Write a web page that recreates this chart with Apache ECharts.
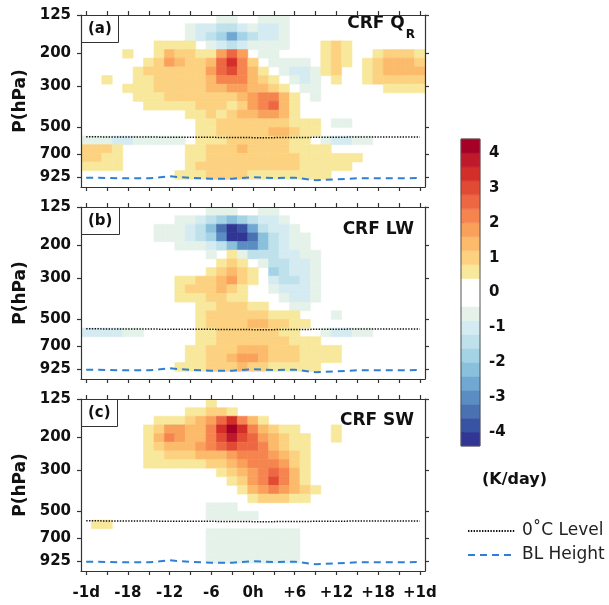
<!DOCTYPE html>
<html>
<head>
<meta charset="utf-8">
<script src="https://cdn.jsdelivr.net/npm/echarts@6/dist/echarts.min.js"></script>
<style>
  html, body { margin: 0; padding: 0; background: #ffffff; }
  #chart { width: 609px; height: 605px; }
</style>
</head>
<body>
<div id="chart"></div>
<script>
// Cell centres in hours relative to the event (1.5 h spacing)
const hours = [-24,-22.5,-21,-19.5,-18,-16.5,-15,-13.5,-12,-10.5,-9,-7.5,-6,-4.5,-3,-1.5,0,1.5,3,4.5,6,7.5,9,10.5,12,13.5,15,16.5,18,19.5,21,22.5,24];
// Pressure of each row (hPa), top to bottom
const levels = [132,147,163,182,202,225,251,279,310,345,384,428,476,530,590,656,731,813,905,1007];

// Cloud radiative forcing heating rates (K/day); one row per level, one column per hour
const crfQR = [
  [0,0,0,0,0,0,0,0,0,0,0,0,0,-.6,-.6,0,0,-.6,-.6,-.6,0,0,0,0,0,0,0,0,0,0,0,0,0],
  [0,0,0,0,0,0,0,0,0,0,-.6,-1,-1,-1.4,-1.4,-1,-.6,-1,-1,-.6,0,0,0,0,0,0,0,0,0,0,0,0,0],
  [0,0,0,0,0,0,0,0,0,0,-.6,-1,-1.4,-1.8,-2.6,-1.8,-1.4,-1,-1,-.6,0,0,0,0,0,0,0,0,0,0,0,0,0],
  [0,0,0,0,0,0,0,.6,.6,.6,.6,0,-.6,-1,-1.4,-1,-.6,-.6,-.6,-.6,0,0,0,.6,1,.6,0,0,0,0,0,0,0],
  [0,0,0,0,.6,0,0,.6,1.4,1,1,.6,.6,1.8,2.6,1.8,0,-.6,-.6,0,0,0,0,.6,1,.6,0,0,.6,1,1,1,.6],
  [0,0,0,0,0,0,.6,1,1.8,1.4,1,1,1.4,2.6,3.4,2.2,1,0,-.6,-.6,-.6,-.6,0,.6,1,.6,0,.6,1,1.4,1.4,1.4,1],
  [0,0,0,0,0,.6,1,1,1,1,1,1,1.8,2.6,3,2.2,1.4,.6,0,-.6,-1,-1,-.6,.6,1,0,0,.6,1,1.4,1.4,1.4,1.4],
  [0,0,.6,0,0,.6,.6,1,1,1,1,1,1.4,2.2,2.2,2.2,1.4,1,.6,0,-.6,-1,-.6,0,.6,0,0,.6,1,1,1,1,1],
  [0,0,0,0,.6,.6,.6,1,1,1,1,1,1.4,1.4,1.8,1.8,1.4,1.4,1,.6,0,-.6,-.6,0,0,0,0,0,0,.6,.6,.6,.6],
  [0,0,0,0,0,.6,.6,.6,1,1,1,1,1,1,1,1.4,1.8,2.2,2.2,1.4,.6,0,-.6,0,0,0,0,0,0,0,0,0,0],
  [0,0,0,0,0,0,.6,.6,.6,.6,.6,1,1,1,.6,1,1.8,2.2,2.6,1.4,.6,0,0,0,0,0,0,0,0,0,0,0,0],
  [0,0,0,0,0,0,0,0,0,0,.6,.6,1,.6,1,1.4,1.4,1.8,1.8,1.4,.6,0,0,0,0,0,0,0,0,0,0,0,0],
  [0,0,0,0,0,0,0,0,0,0,0,.6,.6,1,1,1,1,1,1,1,.6,.6,.6,0,-.6,-.6,0,0,0,0,0,0,0],
  [0,0,0,0,0,0,0,0,0,0,0,.6,.6,1,1,1,1,1,1.4,1.4,1,.6,.6,0,0,0,0,0,0,0,0,0,0],
  [-.6,-.6,-.6,-1,-1,-.6,-.6,-.6,-.6,-.6,0,.6,.6,.6,1,1,1,1,1,1,.6,.6,0,-.6,-1,-1,-.6,-.6,0,0,0,0,0],
  [1,1,1,.6,0,0,0,0,0,0,.6,.6,1,1,1,1.4,1,1,1,1,.6,.6,.6,.6,0,0,0,0,0,0,0,0,0],
  [1,1,.6,.6,0,0,0,0,0,0,.6,.6,1,1,1,1,1,1,1,1,1,.6,.6,.6,.6,.6,.6,0,0,0,0,0,0],
  [.6,.6,.6,.6,0,0,0,0,0,0,.6,1,1,1,1,1,1,1,1,1,1,.6,.6,.6,.6,.6,0,0,0,0,0,0,0],
  [0,0,0,0,0,0,0,0,0,.6,.6,.6,1,1,1,1,.6,.6,.6,.6,.6,.6,.6,.6,0,0,0,0,0,0,0,0,0],
  [0,0,0,0,0,0,0,0,0,0,0,0,0,0,0,0,0,0,0,0,0,0,0,0,0,0,0,0,0,0,0,0,0]
];
const crfLW = [
  [0,0,0,0,0,0,0,0,0,0,0,0,-.6,-.6,-.6,0,0,-.6,-.6,0,0,0,0,0,0,0,0,0,0,0,0,0,0],
  [0,0,0,0,0,0,0,0,0,-.6,-.6,-1,-1.4,-1.8,-2.2,-1.8,-1.4,-1,-1,-.6,0,0,0,0,0,0,0,0,0,0,0,0,0],
  [0,0,0,0,0,0,0,-.6,-.6,-.6,-1,-1.4,-2.2,-3.4,-4.2,-3.8,-2.6,-1.4,-1,-1,-.6,0,0,0,0,0,0,0,0,0,0,0,0],
  [0,0,0,0,0,0,0,-.6,-.6,-.6,-1,-1.4,-1.8,-3,-4.2,-4.2,-3.4,-2.2,-1.4,-1,-.6,-.6,0,0,0,0,0,0,0,0,0,0,0],
  [0,0,0,0,0,0,0,0,0,-.6,-.6,-.6,-1,-1.4,-2.2,-3,-3,-2.2,-1.4,-1,-.6,-.6,0,0,0,0,0,0,0,0,0,0,0],
  [0,0,0,0,0,0,0,0,0,0,0,0,-.6,0,.6,-.6,-1.4,-1.4,-1.4,-1,-1,-.6,-.6,0,0,0,0,0,0,0,0,0,0],
  [0,0,0,0,0,0,0,0,0,0,0,0,0,.6,1,.6,0,-.6,-1.4,-1.4,-1,-1,-.6,0,0,0,0,0,0,0,0,0,0],
  [0,0,0,0,0,0,0,0,0,0,0,0,.6,1,1.4,1,.6,0,-1.8,-1.4,-1,-1,-.6,0,0,0,0,0,0,0,0,0,0],
  [0,0,0,0,0,0,0,0,0,.6,.6,1,1,1.4,1.8,1,.6,0,-1,-1.4,-1.4,-1,-.6,0,0,0,0,0,0,0,0,0,0],
  [0,0,0,0,0,0,0,0,0,.6,1,1,1,1.4,1,.6,0,0,-.6,-1,-1,-1,-.6,0,0,0,0,0,0,0,0,0,0],
  [0,0,0,0,0,0,0,0,0,.6,.6,.6,1,1,.6,.6,0,0,0,-.6,-1,-1,-.6,0,0,0,0,0,0,0,0,0,0],
  [0,0,0,0,0,0,0,0,0,0,0,.6,.6,1,1,1,.6,.6,0,0,-.6,-.6,0,0,0,0,0,0,0,0,0,0,0],
  [0,0,0,0,0,0,0,0,0,0,0,.6,1,1,1,1,1,1,.6,.6,.6,0,0,0,-.6,0,0,0,0,0,0,0,0],
  [0,0,0,0,0,0,0,0,0,0,0,.6,1,1,1,1,1.4,1.4,1,1,.6,.6,0,0,0,0,0,0,0,0,0,0,0],
  [-1,-1,-1,-1,-.6,-.6,0,0,0,0,0,.6,.6,1,1,1,1,1,1,.6,.6,0,0,-.6,-1,-1,-.6,-.6,0,0,0,0,0],
  [0,0,0,0,0,0,0,0,0,0,0,.6,.6,1,1,1,1,1,1,1,.6,.6,.6,0,0,0,0,0,0,0,0,0,0],
  [0,0,0,0,0,0,0,0,0,0,.6,.6,1,1,1,1.4,1.4,1.4,1,1,1,.6,.6,.6,.6,0,0,0,0,0,0,0,0],
  [0,0,0,0,0,0,0,0,0,0,.6,.6,1,1,1.4,1.8,1.8,1.4,1,1,1,.6,.6,.6,.6,0,0,0,0,0,0,0,0],
  [0,0,0,0,0,0,0,0,0,.6,.6,.6,1,1,1,1.4,1,1,.6,.6,.6,.6,.6,0,0,0,0,0,0,0,0,0,0],
  [0,0,0,0,0,0,0,0,0,0,0,0,0,0,0,0,0,0,0,0,0,0,0,0,0,0,0,0,0,0,0,0,0]
];
const crfSW = [
  [0,0,0,0,0,0,0,0,0,0,0,0,.6,0,0,0,0,0,0,0,0,0,0,0,0,0,0,0,0,0,0,0,0],
  [0,0,0,0,0,0,0,0,0,0,.6,.6,1,1,.6,0,0,0,0,0,0,0,0,0,0,0,0,0,0,0,0,0,0],
  [0,0,0,0,0,0,0,.6,.6,.6,1,1.4,1.8,2.6,3.4,2.2,1.4,.6,0,0,0,0,0,0,0,0,0,0,0,0,0,0,0],
  [0,0,0,0,0,0,.6,1,1.8,1.8,1.4,1.4,2.2,3.4,4.2,3.4,2.2,1.4,1,.6,.6,0,0,0,.6,0,0,0,0,0,0,0,0],
  [0,0,0,0,0,0,.6,1.4,2.2,1.8,1.4,1.4,2.2,3,3.8,3,2.6,1.8,1.4,1,.6,.6,0,0,.6,0,0,0,0,0,0,0,0],
  [0,0,0,0,0,0,.6,1,1.4,1.4,1.4,1.8,2.2,2.6,3,2.6,2.6,2.2,1.4,1,.6,.6,0,0,0,0,0,0,0,0,0,0,0],
  [0,0,0,0,0,0,.6,.6,1,1,1,1.4,1.4,1.4,1.8,2.2,2.2,2.2,1.8,1.4,1,.6,0,0,0,0,0,0,0,0,0,0,0],
  [0,0,0,0,0,0,.6,.6,.6,.6,.6,.6,1,1,1.4,1.8,2.2,2.2,2.2,1.8,1,.6,0,0,0,0,0,0,0,0,0,0,0],
  [0,0,0,0,0,0,0,0,0,0,0,0,0,.6,1,1.4,1.8,2.2,2.6,2.2,1.4,.6,0,0,0,0,0,0,0,0,0,0,0],
  [0,0,0,0,0,0,0,0,0,0,0,0,0,0,.6,1,1.8,2.2,3,2.2,1.4,.6,0,0,0,0,0,0,0,0,0,0,0],
  [0,0,0,0,0,0,0,0,0,0,0,0,0,0,0,.6,1.4,1.8,2.2,1.8,1.4,1,.6,0,0,0,0,0,0,0,0,0,0],
  [0,0,0,0,0,0,0,0,0,0,0,0,0,0,0,0,.6,1,1,1,.6,.6,0,0,0,0,0,0,0,0,0,0,0],
  [0,0,0,0,0,0,0,0,0,0,0,0,-.6,-.6,-.6,0,0,0,0,0,0,0,0,0,0,0,0,0,0,0,0,0,0],
  [0,0,0,0,0,0,0,0,0,0,0,0,-.6,-.6,-.6,-.6,-.6,0,0,0,0,0,0,0,0,0,0,0,0,0,0,0,0],
  [0,.6,.6,0,0,0,0,0,0,0,0,0,0,0,0,0,0,0,0,0,0,0,0,0,0,0,0,0,0,0,0,0,0],
  [0,0,0,0,0,0,0,0,0,0,0,0,-.6,-.6,-.6,-.6,-.6,-.6,-.6,-.6,-.6,0,0,0,0,0,0,0,0,0,0,0,0],
  [0,0,0,0,0,0,0,0,0,0,0,0,-.6,-.6,-.6,-.6,-.6,-.6,-.6,-.6,-.6,0,0,0,0,0,0,0,0,0,0,0,0],
  [0,0,0,0,0,0,0,0,0,0,0,0,-.6,-.6,-.6,-.6,-.6,-.6,-.6,-.6,-.6,0,0,0,0,0,0,0,0,0,0,0,0],
  [0,0,0,0,0,0,0,0,0,0,0,0,-.6,-.6,-.6,-.6,-.6,-.6,-.6,-.6,-.6,0,0,0,0,0,0,0,0,0,0,0,0],
  [0,0,0,0,0,0,0,0,0,0,0,0,0,0,0,0,0,0,0,0,0,0,0,0,0,0,0,0,0,0,0,0,0]
];

// Freezing level and boundary-layer top (hPa), every 3 h
const lineHours = [-24,-21,-18,-15,-12,-9,-6,-3,0,3,6,9,12,15,18,21,24];
const zeroCLevel = [564,565,566,566,567,567,568,569,570,570,569,568,567,566,566,565,565];
const blHeight = [935,939,943,943,920,939,947,947,931,939,935,966,955,943,943,943,939];

// Axis ticks and labels
const xTickHours = [-24,-21,-18,-15,-12,-9,-6,-3,0,3,6,9,12,15,18,21,24];
const xLabelHours = [-24,-18,-12,-6,0,6,12,18,24];
const xLabelText = ['-1d','-18','-12','-6','0h','+6','+12','+18','+1d'];
const pTicks = [125,200,300,500,700,925];
const cbTicks = [-4,-3,-2,-1,0,1,2,3,4];

// Shading levels (K/day) and their colours, lowest first
const bandEdges = [-4.4,-4,-3.6,-3.2,-2.8,-2.4,-2,-1.6,-1.2,-0.8,-0.4,0.4,0.8,1.2,1.6,2,2.4,2.8,3.2,3.6,4,4.4];
const bandColors = ['#313695','#3953a4','#4a72b3','#5a8ec3','#70a8d1','#89c0dc','#a4d3e6','#bee1eb','#d5ebf2','#e5f2ea','#ffffff',
                    '#f8e89c','#fcd281','#fcba6b','#f9a05a','#f5844e','#ee6743','#e14b34','#d32f28','#be1a2c','#a50026'];

const panelNames = ['CRF QR','CRF LW','CRF SW'];
const panelFields = [crfQR, crfLW, crfSW];
const panelTags = ['(a)','(b)','(c)'];

const FONT = 'DejaVu Sans';
const AX = '#333333';
const P_MIN = 125, P_MAX = 1050;
const T_MIN = -24.75, T_MAX = 24.75;
const gridTops = [15, 207, 399];
const halfStep = (hours[1] - hours[0]) / 2;

function rowEdges(i) {
  const top = i === 0 ? P_MIN : Math.sqrt(levels[i - 1] * levels[i]);
  const bottom = i === levels.length - 1 ? P_MAX : Math.sqrt(levels[i] * levels[i + 1]);
  return [top, bottom];
}

function toCells(field) {
  const out = [];
  field.forEach((row, i) => {
    row.forEach((v, j) => {
      if (v !== 0) out.push([hours[j], levels[i], v, i]);
    });
  });
  return out;
}

function renderCell(params, api) {
  const t = api.value(0);
  const edges = rowEdges(api.value(3));
  const a = api.coord([t - halfStep, edges[0]]);
  const b = api.coord([t + halfStep, edges[1]]);
  const color = api.visual('color');
  return {
    type: 'rect',
    shape: {
      x: Math.min(a[0], b[0]), y: Math.min(a[1], b[1]),
      width: Math.abs(b[0] - a[0]), height: Math.abs(b[1] - a[1])
    },
    style: { fill: color, stroke: color, lineWidth: 0.6 }
  };
}

function renderBand(params, api) {
  const a = api.coord([0, api.value(1)]);
  const b = api.coord([1, api.value(0)]);
  const color = api.visual('color');
  return {
    type: 'rect',
    shape: { x: a[0], y: a[1], width: b[0] - a[0], height: b[1] - a[1] },
    style: { fill: color, stroke: color, lineWidth: 0.5 }
  };
}

const bands = bandColors.map((c, k) => [bandEdges[k], bandEdges[k + 1], (bandEdges[k] + bandEdges[k + 1]) / 2]);
const pieces = bandColors.map((c, k) => (
  k === bandColors.length - 1
    ? { gte: bandEdges[k], lte: bandEdges[k + 1], color: c }
    : { gte: bandEdges[k], lt: bandEdges[k + 1], color: c }
));

const labelStyle = { fontFamily: FONT, fontSize: 15, fontWeight: 'bold', color: '#111' };

const grids = gridTops.map(top => ({ left: 81, top: top, width: 344, height: 172 }));
grids.push({ left: 461, top: 139, width: 19, height: 307, show: true, backgroundColor: 'transparent',
             borderColor: '#555', borderWidth: 1, z: 10 });

const xAxes = [];
const yAxes = [];
const series = [];
gridTops.forEach((top, g) => {
  ['bottom', 'top'].forEach(pos => {
    xAxes.push({
      gridIndex: g, type: 'value', min: T_MIN, max: T_MAX, position: pos, z: 10,
      axisLine: { show: true, onZero: false, lineStyle: { color: AX, width: 1.2 } },
      axisTick: { show: true, customValues: xTickHours, length: 4, lineStyle: { color: AX, width: 1.2 } },
      axisLabel: Object.assign({
        show: pos === 'bottom' && g === 2, customValues: xLabelHours, margin: 15,
        formatter: v => xLabelText[xLabelHours.indexOf(Math.round(v))]
      }, labelStyle),
      splitLine: { show: false }
    });
  });
  ['left', 'right'].forEach(pos => {
    yAxes.push({
      gridIndex: g, type: 'log', logBase: 10, inverse: true, min: P_MIN, max: P_MAX, position: pos, z: 10,
      name: pos === 'left' ? 'P(hPa)' : '', nameLocation: 'middle', nameGap: 46, nameRotate: 90,
      nameTextStyle: { fontFamily: FONT, fontSize: 17, fontWeight: 'bold', color: '#111' },
      axisLine: { show: true, onZero: false, lineStyle: { color: AX, width: 1.2 } },
      axisTick: { show: true, customValues: pTicks, length: 4, lineStyle: { color: AX, width: 1.2 } },
      axisLabel: Object.assign({ show: pos === 'left', customValues: pTicks, margin: 10 }, labelStyle),
      splitLine: { show: false }, minorTick: { show: false }
    });
  });
  series.push({
    type: 'custom', name: panelNames[g], xAxisIndex: 2 * g, yAxisIndex: 2 * g,
    renderItem: renderCell, data: toCells(panelFields[g]), clip: true, silent: true, z: 2
  });
  series.push({
    type: 'line', name: '0˚C Level', xAxisIndex: 2 * g, yAxisIndex: 2 * g,
    data: lineHours.map((h, i) => [h, zeroCLevel[i]]), symbol: 'none', silent: true, z: 5,
    itemStyle: { color: '#111' },
    lineStyle: { color: '#111', width: 1.5, type: [1.4, 1.4] }
  });
  series.push({
    type: 'line', name: 'BL Height', xAxisIndex: 2 * g, yAxisIndex: 2 * g,
    data: lineHours.map((h, i) => [h, blHeight[i]]), symbol: 'none', silent: true, z: 5,
    itemStyle: { color: '#2f80d4' },
    lineStyle: { color: '#2f80d4', width: 2, type: [7, 5] }
  });
});

// Colour bar
xAxes.push({ gridIndex: 3, type: 'value', min: 0, max: 1, show: false });
yAxes.push({
  gridIndex: 3, type: 'value', min: -4.4, max: 4.4, position: 'right',
  axisLine: { show: false },
  axisTick: { show: true, customValues: cbTicks, length: 3, lineStyle: { color: '#555' } },
  axisLabel: Object.assign({ customValues: cbTicks, margin: 9 }, labelStyle),
  splitLine: { show: false }
});
series.push({
  type: 'custom', name: 'colour bar', xAxisIndex: 6, yAxisIndex: 6,
  renderItem: renderBand, data: bands, silent: true, z: 2
});

const titleText = { fontFamily: FONT, fontSize: 17, fontWeight: 'bold', color: '#111', lineHeight: 20 };
const titles = panelTags.map((tag, g) => ({
  text: tag, left: 81, top: gridTops[g], padding: [5, 7], borderColor: AX, borderWidth: 1,
  textStyle: { fontFamily: FONT, fontSize: 15, fontWeight: 'bold', color: '#111', lineHeight: 18 }
}));
titles.push({
  text: 'CRF Q{sub|R}', right: 194, top: 14, padding: 0,
  textStyle: Object.assign({
    rich: { sub: { fontFamily: FONT, fontSize: 12, fontWeight: 'bold', color: '#111', padding: [21, 0, 0, 1] } }
  }, titleText)
});
titles.push({ text: 'CRF LW', right: 195, top: 220, padding: 0, textStyle: titleText });
titles.push({ text: 'CRF SW', right: 195, top: 411, padding: 0, textStyle: titleText });
titles.push({ text: '(K/day)', left: 482, top: 471, padding: 0,
  textStyle: { fontFamily: FONT, fontSize: 16, fontWeight: 'bold', color: '#111', lineHeight: 18 } });

const chart = echarts.init(document.getElementById('chart'), null, { renderer: 'canvas' });
chart.setOption({
  animation: false,
  backgroundColor: '#ffffff',
  title: titles,
  grid: grids,
  xAxis: xAxes,
  yAxis: yAxes,
  visualMap: {
    type: 'piecewise', show: false, dimension: 2,
    seriesIndex: [0, 3, 6, 9], pieces: pieces
  },
  legend: {
    data: ['0˚C Level', 'BL Height'], orient: 'vertical', left: 467, top: 521, padding: 0,
    itemWidth: 47, itemHeight: 14, itemGap: 4, selectedMode: false,
    itemStyle: { opacity: 0 },
    textStyle: { fontFamily: FONT, fontSize: 17, color: '#222', lineHeight: 20, padding: [0, 0, 0, 2] }
  },
  series: series
});
</script>
</body>
</html>
